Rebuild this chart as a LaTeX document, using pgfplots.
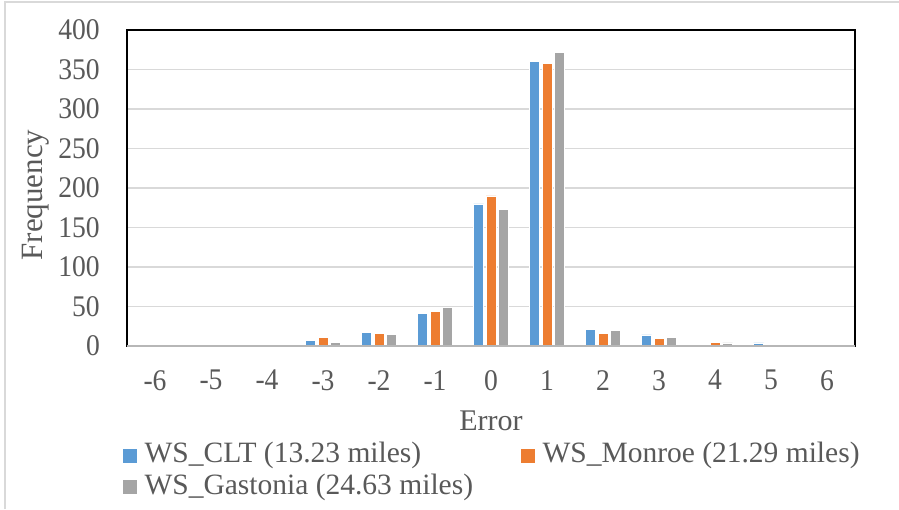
\documentclass[border=0pt]{standalone}
\usepackage{pgfplots}
\pgfplotsset{compat=1.18}
\usepackage{fontspec}
\setmainfont{Liberation Serif}
\newfontfamily\tickfont[FakeStretch=0.92]{Liberation Serif}
\definecolor{cltblue}{HTML}{5B9BD5}
\definecolor{monorange}{HTML}{ED7D31}
\definecolor{gasgray}{HTML}{A5A5A5}
\definecolor{gridgray}{HTML}{D9D9D9}
\definecolor{txtgray}{HTML}{595959}
\pgfplotstableread{
x clt monroe gastonia
-6 0 0 0
-5 0 0 0
-4 0 1 0
-3 7 11 5
-2 17 16 15
-1 41.5 44 49
0 180 190 173
1 360 358 372
2 21 16 20
3 14 10 11
4 0.6 5 4
5 4 0 0
6 0 0 0
}\errdata
\begin{document}
\begin{tikzpicture}
\useasboundingbox (0,0) rectangle (899pt,509pt);
\fill[white] (0,0) rectangle (899pt,509pt);
\draw[gridgray, line width=1.2pt] (5pt,0) -- (5pt,507pt) -- (899pt,507pt);
\begin{axis}[
  at={(127pt,163pt)}, anchor=south west,
  scale only axis, width=728pt, height=316pt,
  ybar=2.5pt, bar width=10pt,
  xmin=-6.5, xmax=6.5, ymin=0, ymax=400,
  xtick={-6,-5,-4,-3,-2,-1,0,1,2,3,4,5,6},
  xticklabels={-6,-5,-4,-3,-2,-1,0,1,2,3,4,5,6},
  ytick={0,50,100,150,200,250,300,350,400},
  /pgf/number format/assume math mode=true,
  major tick length=0pt,
  ymajorgrids, grid style={gridgray, line width=1.6pt},
  axis line style={black, line width=1.5pt},
  tick label style={font=\tickfont\fontsize{30}{34}\selectfont, text=txtgray, inner sep=0pt},
  yticklabel style={anchor=east, xshift=-27pt},
  xticklabel style={anchor=north, yshift=-24pt},
  xlabel={Error}, ylabel={Frequency},
  xlabel style={font=\fontsize{30}{34}\selectfont, text=txtgray, at={(axis description cs:0.5,0)}, anchor=north, inner sep=0pt, yshift=-65pt},
  ylabel style={font=\fontsize{31}{36}\selectfont, text=txtgray, at={(axis description cs:-0.107,0.478)}, anchor=south, rotate=0, inner sep=0pt},
  legend columns=2, legend cell align=left,
  legend style={draw=none, fill=none, at={(axis description cs:-0.0069,-0.3028)}, anchor=north west, inner sep=0pt,
    font=\fontsize{29.5}{33}\selectfont, text=txtgray,
    nodes={inner sep=0pt, text height=21pt, text depth=6pt},
    /tikz/every odd column/.append style={column sep=7pt},
    /tikz/every even column/.append style={column sep=47pt},
    row sep=4.3pt},
  legend image code/.code={\fill[#1] (0pt,-7.5pt) rectangle (15pt,7.5pt);},
]
\addplot[fill=cltblue, draw=white, line width=0.4pt] table[x=x, y=clt] {\errdata};
\addplot[fill=monorange, draw=white, line width=0.4pt] table[x=x, y=monroe] {\errdata};
\addplot[fill=gasgray, draw=white, line width=0.4pt] table[x=x, y=gastonia] {\errdata};
\legend{WS\_CLT (13.23 miles), WS\_Monroe (21.29 miles), WS\_Gastonia (24.63 miles)}
\draw[gasgray!80, line width=1.8pt] (rel axis cs:0,0) -- (rel axis cs:1,0);
\end{axis}
\end{tikzpicture}
\end{document}
